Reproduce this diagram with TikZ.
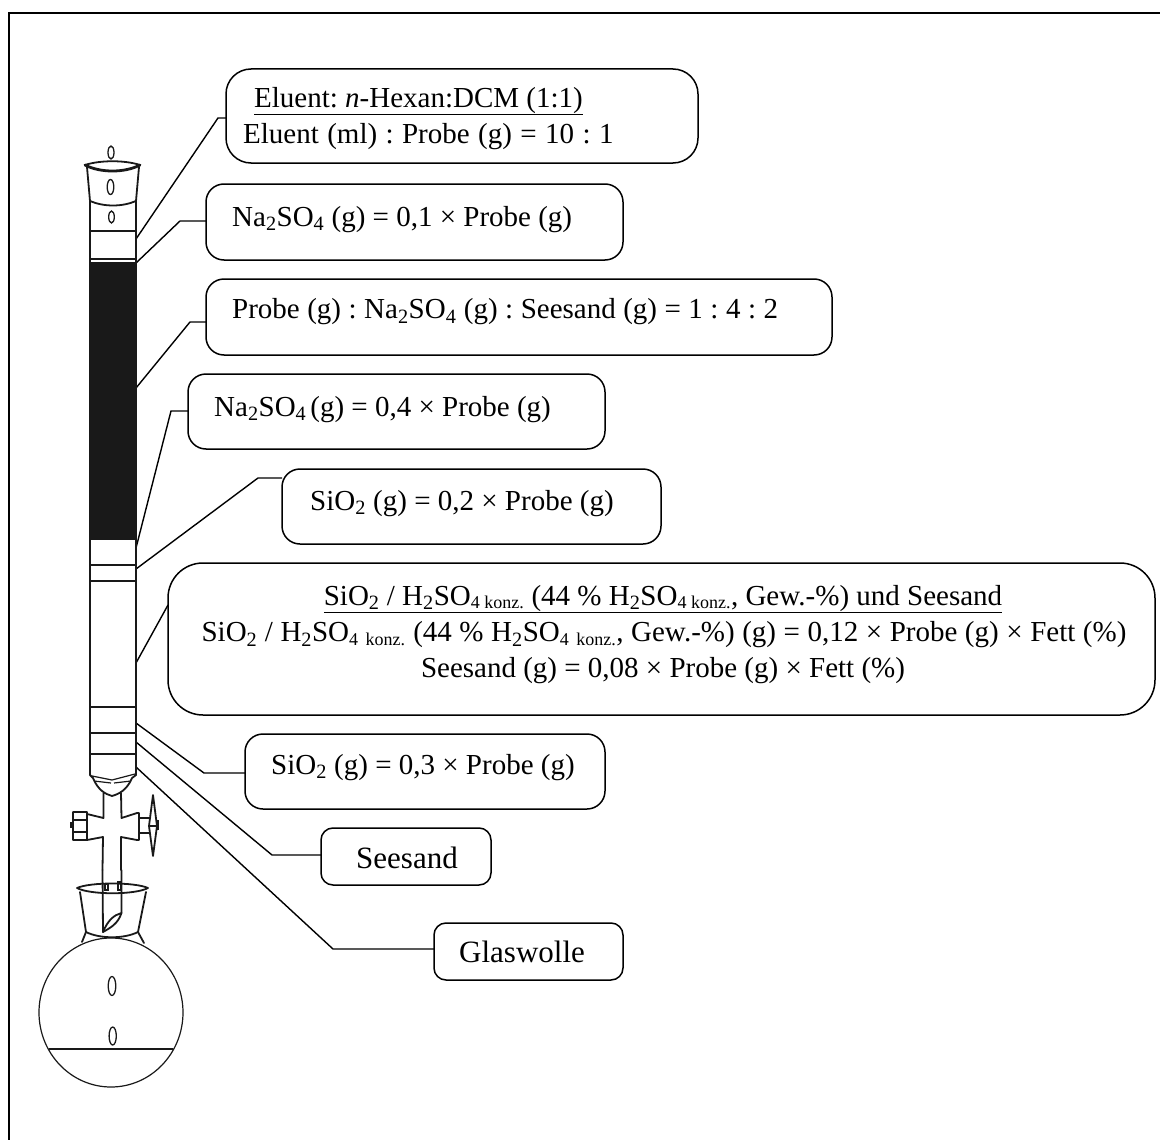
\documentclass[tikz,border=0pt]{standalone}
\usepackage{fontspec}
\setmainfont{Liberation Serif}
\frenchspacing
\tikzset{
  glass/.style={draw=black!90,line width=1.8pt,line join=round,line cap=round},
  thin glass/.style={draw=black!90,line width=1.2pt},
  bubble/.style={draw=black!90,line width=1.3pt},
  infobox/.style={draw=black,line width=1.5pt,rounded corners=#1,anchor=north west,inner sep=0pt,outer sep=0pt},
  infobox/.default=20pt,
  leader/.style={draw=black,line width=1.4pt,line join=miter},
  lab/.style={anchor=base west,inner sep=0pt,font=\fontsize{29}{29}\selectfont\frenchspacing},
  labc/.style={anchor=base,inner sep=0pt,font=\fontsize{29}{29}\selectfont\frenchspacing},
  labbig/.style={anchor=base west,inner sep=0pt,font=\fontsize{31}{31}\selectfont},
}
\newcommand{\sbs}[1]{\textsubscript{#1}}
\newcommand{\kz}{\textsubscript{\fontsize{18}{18}\selectfont 4 konz.}}
\begin{document}
\begin{tikzpicture}[x=1pt,y=-1pt]
\useasboundingbox (0,0) rectangle (1160,1140);
\draw[line width=2.4pt] (9,1140) -- (9,13) -- (1160,13);

% boxes
\node[infobox=25pt,minimum width=472pt,minimum height=94pt] (b1) at (226,69) {};
\node[infobox=18pt,minimum width=417pt,minimum height=76pt] (b2) at (206,184) {};
\node[infobox=18pt,minimum width=626pt,minimum height=76pt] (b3) at (206,279) {};
\node[infobox=18pt,minimum width=417pt,minimum height=75pt] (b4) at (188,374) {};
\node[infobox=18pt,minimum width=379pt,minimum height=75pt] (b5) at (282,469) {};
\node[infobox=35pt,minimum width=987pt,minimum height=152pt] (b6) at (168,563) {};
\node[infobox=18pt,minimum width=360pt,minimum height=75pt] (b7) at (245,734) {};
\node[infobox=12pt,minimum width=170pt,minimum height=57pt] (b8) at (321,828) {};
\node[infobox=12pt,minimum width=189pt,minimum height=57pt] (b9) at (434,923) {};

% labels
\node[lab] (t1a) at (254,107) {\underline{Eluent: \textit{n}-Hexan:DCM (1:1)}};
\node[lab] (t1b) at (243,143) {\spaceskip=8.4pt Eluent (ml) : Probe (g) = 10 : 1};
\node[lab] (t2) at (232,226) {Na\sbs{2}SO\sbs{4} (g) = 0,1 × Probe (g)};
\node[lab] (t3) at (232,318.5) {\spaceskip=7.5pt Probe (g) : Na\sbs{2}SO\sbs{4} (g) : Seesand (g) = 1 : 4 : 2};
\node[lab] (t4) at (214,416) {Na\sbs{2}SO\sbs{4}\kern4pt(g) = 0,4 × Probe (g)};
\node[lab] (t5) at (310,510) {SiO\sbs{2} (g) = 0,2 × Probe (g)};
\node[labc] (t6a) at (663,605) {\underline{SiO\sbs{2} / H\sbs{2}SO\kz{} (44 \% H\sbs{2}SO\kz{}, Gew.-\%) und Seesand}};
\node[labc] (t6b) at (664,641.5) {\spaceskip=7.55pt SiO\sbs{2} / H\sbs{2}SO\kz{} (44 \% H\sbs{2}SO\kz{}, Gew.-\%) (g) = 0,12 × Probe (g) × Fett (\%)};
\node[labc] (t6c) at (663,677.5) {Seesand (g) = 0,08 × Probe (g) × Fett (\%)};
\node[lab] (t7) at (271,774) {SiO\sbs{2} (g) = 0,3 × Probe (g)};
\node[labbig] (t8) at (356,868) {Seesand};
\node[labbig] (t9) at (459,962) {Glaswolle};

% column anchor points
\coordinate (c1) at (136,239);
\coordinate (c2) at (136,263);
\coordinate (c3) at (136,388);
\coordinate (c4) at (136,548);
\coordinate (c5) at (136,569);
\coordinate (c6) at (136,663);
\coordinate (c7) at (136,723);
\coordinate (c8) at (136,742);
\coordinate (c9) at (136,767);
\coordinate (k1) at (218,118);
\coordinate (k2) at (180,221);
\coordinate (k3) at (190,322);
\coordinate (k4) at (171,411);
\coordinate (k5) at (258,478);
\coordinate (k7) at (204,773);
\coordinate (k8) at (272,855);
\coordinate (k9) at (333,949);

% leaders
\draw[leader] (c1) -- (k1) -- (k1 -| b1.west);
\draw[leader] (c2) -- (k2) -- (k2 -| b2.west);
\draw[leader] (c3) -- (k3) -- (k3 -| b3.west);
\draw[leader] (c4) -- (k4) -- (k4 -| b4.west);
\draw[leader] (c5) -- (k5) -- (k5 -| b5.west);
\draw[leader] (c6) -- (b6.west |- 0,605);
\draw[leader] (c7) -- (k7) -- (k7 -| b7.west);
\draw[leader] (c8) -- (k8) -- (k8 -| b8.west);
\draw[leader] (c9) -- (k9) -- (k9 -| b9.west);

% column
\fill[black!90] (89,264) rectangle (136,540);
\draw[glass] (90,201) -- (90,775) (136,201) -- (136,775);
\foreach \yy in {231,259,263,565,581,707,733,754} \draw[glass] (90,\yy) -- (136,\yy);
% top funnel
\draw[glass] (85,165) .. controls (100,160) and (125,160) .. (140,165);
\draw[draw=black!90,line width=2.8pt,line cap=round] (85,165) .. controls (100,173) and (125,173) .. (140,165);
\draw[glass] (87,167) -- (90,201) .. controls (104,207) and (122,207) .. (136,201) -- (139,167);
\draw[bubble] (111,152.5) ellipse (3pt and 6.5pt);
\draw[bubble] (110.5,187) ellipse (3.3pt and 7.5pt);
\draw[bubble] (111.5,217) ellipse (2.8pt and 6pt);
% lower cone
\draw[glass] (90,775) -- (93,778) .. controls (98,790) and (105,794) .. (112,796) .. controls (119,794) and (127,790) .. (132,778) -- (136,775);
\draw[thin glass] (92,776) -- (112,780) -- (135,774);
\draw[thin glass] (94,781) -- (111,783) (114,783) -- (131,781);
% stopcock
\draw[glass] (103.5,793) -- (103.5,818) -- (87,814) -- (87,812) -- (73,812) -- (73,840) -- (87,840) -- (103,837) -- (102.5,870);
\draw[thin glass] (73,820) -- (87,820) (73,832) -- (87,832) (87,812) -- (87,840);
\fill[black!90] (70,822) rectangle (73,828);
\draw[glass] (121,793) -- (121.5,818) -- (137,813) -- (139,813) -- (139,840) -- (137,840) -- (121,837) -- (121,870);
\draw[glass] (139,818) -- (149,818) (139,833) -- (149,833);
\draw[glass] (153,795) -- (157,826) -- (153,856) -- (149,826) -- cycle;
\draw[thin glass] (149,826) -- (159,826);
\fill[black!90] (157,820) rectangle (159,830);
% inner tube
\draw[glass] (102.5,870) -- (103,932) .. controls (108,920) and (114,915) .. (121.5,913);
\draw[glass] (121.5,870) -- (121.5,913) .. controls (118,924) and (110,928) .. (103,932);
% joint
\draw[glass] (77,888) .. controls (90,882) and (135,882) .. (148,888) .. controls (135,895) and (90,895) .. (77,888) -- cycle;
\draw[thin glass] (105,884) rectangle (108,890);
\draw[thin glass] (118,882) rectangle (121,890);
\draw[glass] (80,892) -- (86,932) .. controls (100,939) and (124,939) .. (138,932) -- (146,892);
\draw[glass] (86,932) -- (82,942) (138,932) -- (144,943);
% flask
\draw[thin glass] (111,1012.5) ellipse (72pt and 74.5pt);
\draw[draw=black!90,line width=1.8pt] (49,1049) -- (173,1049);
\draw[bubble] (112,986) ellipse (3.8pt and 9.5pt);
\draw[bubble] (112.7,1036) ellipse (3.6pt and 9pt);
\end{tikzpicture}
\end{document}
